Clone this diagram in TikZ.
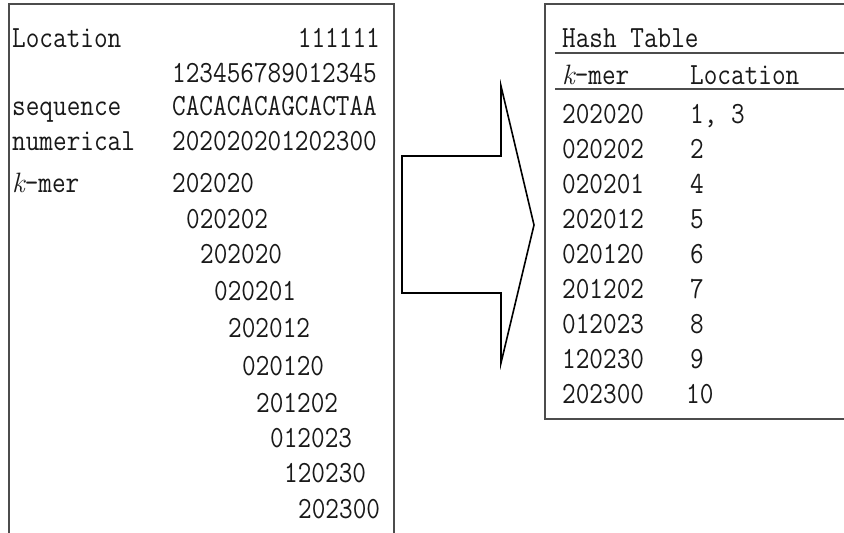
\documentclass[tikz,border=0pt]{standalone}
\usepackage{fontspec}
\newfontfamily\monoface{Latin Modern Mono}[FakeStretch=0.86]
\begin{document}
\begin{tikzpicture}[x=1pt,y=-1pt,
  txt/.style={font=\monoface\fontsize{30.8}{34}\selectfont, inner sep=0pt, anchor=base west, text=black!90},
  txtr/.style={txt, anchor=base east},
  frame/.style={draw=black!70, line width=1.4pt},
  bigarrow/.style={draw=black, line width=1.6pt, line join=miter}]
\useasboundingbox (0,0) rectangle (844,533);
\fill[white] (0,0) rectangle (844,533);
% left panel
\draw[frame] (9,540) -- (9,4) -- (394,4) -- (394,540);
\newcommand{\kk}{{\rmfamily\itshape\fontsize{28}{30}\selectfont k}}
\node[txt] (loclab) at (12,47) {Location};
\node[txtr] (ones) at (380,47) {111111};
\node[txt] (digits) at (172,82) {123456789012345};
\node[txt] (seqlab) at (12,115) {sequence};
\node[txt] (seq) at (172,115) {CACACACAGCACTAA};
\node[txt] (numlab) at (12,150) {numerical};
\node[txt] (num) at (172,150) {202020201202300};
\node[txt] (kmerlab) at (12,192) {\kk-mer};
\node[txt] (k1) at (172,192) {202020};
\node[txt] (k2) at (186,228) {020202};
\node[txt] (k3) at (200,263) {202020};
\node[txt] (k4) at (214,300) {020201};
\node[txt] (k5) at (228,337) {202012};
\node[txt] (k6) at (242,375) {020120};
\node[txt] (k7) at (256,412) {201202};
\node[txt] (k8) at (270,447) {012023};
\node[txt] (k9) at (284,482) {120230};
\node[txt] (k10) at (298,518) {202300};
% arrow
\draw[bigarrow] (402,156) -- (501,156) -- (501,86) -- (534,225) -- (501,363) -- (501,293) -- (402,293) -- cycle;
% right panel
\draw[frame] (850,4) -- (545,4) -- (545,419) -- (850,419);
\draw[frame] (555,53) -- (850,53);
\draw[frame] (555,89) -- (850,89);
\node[txt] (ht) at (562,47) {Hash Table};
\node[txt] (hk) at (562,84) {\kk-mer};
\node[txt] (hl) at (690,84) {Location};
\node[txt] (r1) at (562,123) {202020};
\node[txt] (l1) at (690,123) {1, 3};
\node[txt] (r2) at (562,158) {020202};
\node[txt] (l2) at (690,158) {2};
\node[txt] (r3) at (562,193) {020201};
\node[txt] (l3) at (690,193) {4};
\node[txt] (r4) at (562,228) {202012};
\node[txt] (l4) at (690,228) {5};
\node[txt] (r5) at (562,263) {020120};
\node[txt] (l5) at (690,263) {6};
\node[txt] (r6) at (562,298) {201202};
\node[txt] (l6) at (690,298) {7};
\node[txt] (r7) at (562,333) {012023};
\node[txt] (l7) at (690,333) {8};
\node[txt] (r8) at (562,368) {120230};
\node[txt] (l8) at (690,368) {9};
\node[txt] (r9) at (562,403) {202300};
\node[txt] (l9) at (686,403) {10};
\end{tikzpicture}
\end{document}
